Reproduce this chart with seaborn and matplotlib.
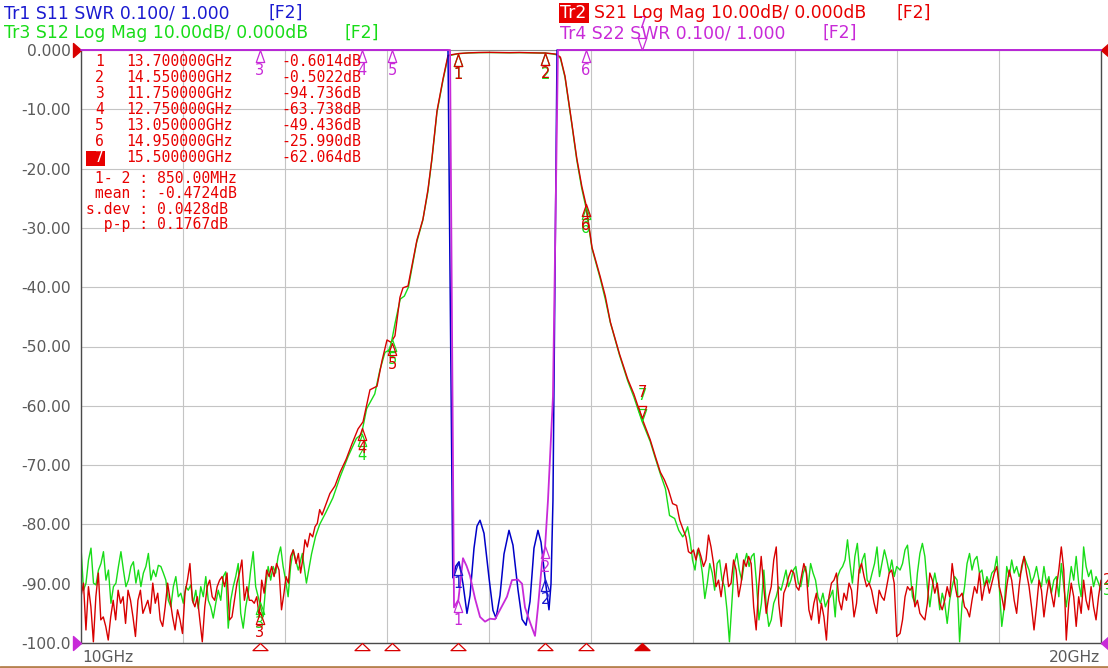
import numpy as np
import matplotlib
matplotlib.use("Agg")
import matplotlib.pyplot as plt
import seaborn as sns
from matplotlib.path import Path
from matplotlib.patches import Rectangle
from matplotlib.lines import Line2D

# ---------------- data ----------------
# marker table (Tr2, S21)
mk_num = ['1', '2', '3', '4', '5', '6', '7']
mk_freq = [13.70, 14.55, 11.75, 12.75, 13.05, 14.95, 15.50]
mk_db = [-0.6014, -0.5022, -94.736, -63.738, -49.436, -25.990, -62.064]
stat_mean, stat_sdev, stat_pp = -0.4724, 0.0428, 0.1767

pass_f = [13.65, 13.70, 13.80, 13.90, 14.00, 14.10, 14.20, 14.30, 14.40, 14.50, 14.55, 14.62]

# S21 (red), dB
s21_noise_lo = [-92.2, -89.9, -97.8, -90.5, -93.9, -99.8, -92.2, -88.2, -96.1, -95.6,
                -97.2, -99.5, -95.6, -92.8, -96.1, -91.1, -93.3, -92.2, -96.7, -91.1,
                -92.8, -95.6, -98.9, -92.8, -91.1, -95.0, -93.9, -92.8, -95.0, -89.9,
                -93.3, -91.6, -96.1, -97.2, -93.9, -89.9, -92.8, -95.6, -97.8, -94.4,
                -96.1, -98.4, -91.6, -89.4, -86.6, -92.8, -93.9, -92.2, -96.1, -99.8,
                -93.9, -90.5, -89.4, -92.2, -92.8, -90.5, -89.4, -88.8, -90.5, -88.2,
                -96.1, -95.6, -92.8, -89.9, -88.2, -86.0, -92.8, -90.5, -92.8, -92.8,
                -93.3, -92.2, -95.6, -89.4, -91.6, -87.7, -88.8, -87.1, -88.8, -86.6,
                -87.7, -94.4, -91.6]
s21_lo_f = [12.01, 12.033, 12.055, 12.081, 12.108, 12.131, 12.153, 12.173, 12.196, 12.219,
            12.245, 12.271, 12.294, 12.317, 12.34, 12.363, 12.44, 12.49, 12.54, 12.60,
            12.657, 12.716, 12.765, 12.833, 12.902, 12.951, 13.00, 13.04, 13.078, 13.127,
            13.157, 13.206, 13.294, 13.353, 13.402, 13.441, 13.49, 13.549, 13.598]
s21_lo_db = [-88.8, -89.9, -85.4, -84.3, -86.6, -84.9, -88.2, -86.0, -82.6, -83.8,
             -81.5, -82.1, -80.4, -79.8, -77.5, -78.4, -74.8, -73.5, -71.2, -69.0,
             -66.4, -63.9, -62.7, -57.3, -56.7, -52.4, -48.9, -49.3, -48.2, -41.7,
             -40.1, -39.8, -32.0, -28.5, -23.5, -18.2, -10.3, -4.9, -0.9]
s21_pass_db = [-0.75, -0.60, -0.48, -0.42, -0.40, -0.43, -0.45, -0.42, -0.46, -0.50, -0.50, -0.62]
s21_hi_f = [14.66, 14.70, 14.745, 14.81, 14.86, 14.91, 14.95, 15.01, 15.09, 15.14, 15.19, 15.28,
            15.36, 15.42, 15.50, 15.58, 15.63, 15.68, 15.72, 15.76, 15.80, 15.84, 15.87]
s21_hi_db = [-0.7, -1.2, -4.4, -12.1, -18.2, -23.0, -26.0, -33.3, -38.2, -41.5, -45.9, -51.3,
             -55.5, -58.0, -62.1, -65.7, -68.5, -71.2, -72.5, -74.2, -76.5, -76.8, -79.3]
s21_noise_a = [-81.0, -82.1, -84.6, -84.9, -84.3, -86.0, -84.0, -85.4, -87.1, -86.0,
               -81.8, -83.8, -86.6, -90.5, -89.4, -92.2, -88.8, -86.6, -90.5, -89.9,
               -86.0, -87.7, -92.2, -89.9, -86.0, -87.1, -85.4, -86.6, -93.9, -97.8,
               -90.5, -85.4, -90.5, -95.0, -92.2, -90.5, -86.0, -83.8, -93.3, -97.2,
               -91.6, -90.5, -88.8, -87.7, -88.2, -90.5, -91.1, -88.8, -86.6, -88.2,
               -94.4, -96.1, -93.3, -91.6, -96.7, -93.3, -95.6, -99.5, -92.2, -89.9,
               -89.4, -88.2, -92.8, -94.4, -91.6, -92.8, -89.9, -91.1, -95.6, -93.3,
               -87.7, -86.6, -88.8, -90.5, -89.9, -91.1, -93.3, -95.0, -91.1, -92.2,
               -92.8, -90.5, -88.2, -87.7, -89.9, -98.9]
s21_noise_b = [-98.4, -96.1, -92.2, -90.5, -91.1, -90.5, -93.9, -92.8, -95.0, -95.6,
               -96.1, -93.3, -88.2, -89.4, -91.6, -89.9, -93.3, -94.4, -92.8, -90.5,
               -92.2, -86.6, -89.9, -92.2, -92.2, -91.6, -93.9, -94.4, -95.6, -92.8,
               -90.5, -91.6, -88.2, -92.8, -90.5, -89.4, -91.6, -89.9, -88.2, -87.1,
               -90.5, -92.2, -94.4, -90.5, -87.7, -89.4, -92.8, -95.0, -90.5, -87.1,
               -85.4, -88.2, -90.5, -93.9, -97.8, -93.9, -89.4, -91.1, -95.6, -92.2,
               -89.4, -91.6, -93.9, -90.5, -87.7, -83.8, -87.7, -99.5, -93.3, -89.9,
               -92.2, -97.2, -92.2, -95.0, -89.4, -92.8, -94.4, -90.5, -93.9, -96.1,
               -92.2, -89.4]

# S12 (green), dB
s12_noise_lo = [-83.8, -91.1, -89.9, -86.0, -84.0, -89.9, -90.2, -87.7, -86.6, -84.6,
                -89.4, -87.7, -93.3, -90.5, -89.9, -87.1, -84.6, -87.7, -90.5, -89.4,
                -87.1, -86.3, -89.9, -87.7, -90.5, -88.2, -87.1, -84.9, -89.4, -87.7,
                -88.8, -86.9, -87.1, -88.2, -89.4, -92.8, -93.9, -90.5, -88.8, -92.2,
                -91.6, -93.3, -90.5, -91.1, -90.2, -93.3, -91.1, -94.2, -90.5, -92.2,
                -88.8, -92.8, -93.9, -95.8, -93.3, -91.1, -92.8, -88.8, -88.0, -97.5,
                -92.8, -90.5, -88.8, -86.6, -95.0, -97.5, -93.9, -91.6, -87.7, -84.6,
                -90.5, -92.2, -93.9, -95.6, -90.5, -87.1, -89.4, -87.1, -88.2, -85.4,
                -83.8, -87.1, -89.4, -92.2, -87.1]
s12_lo_f = [12.08, 12.13, 12.17, 12.21, 12.26, 12.30, 12.34, 12.40, 12.47, 12.54,
            12.62, 12.70, 12.75, 12.80, 12.88, 12.93, 12.98, 13.03, 13.08, 13.13,
            13.17, 13.21, 13.29, 13.35, 13.40, 13.44, 13.49, 13.55, 13.60]
s12_lo_db = [-84.3, -87.7, -84.9, -89.9, -85.0, -82.0, -80.0, -78.0, -75.5, -72.0,
             -68.5, -65.5, -64.8, -60.5, -58.0, -54.0, -51.0, -50.5, -46.0, -42.0,
             -41.5, -40.0, -32.5, -28.8, -24.0, -18.5, -10.5, -5.0, -1.0]
s12_pass_db = [-0.80, -0.62, -0.50, -0.45, -0.43, -0.45, -0.47, -0.45, -0.48, -0.52, -0.52, -0.65]
s12_hi_f = [14.66, 14.70, 14.745, 14.81, 14.86, 14.91, 14.95, 15.01, 15.09, 15.14, 15.19,
            15.28, 15.36, 15.42, 15.50, 15.58, 15.63, 15.68, 15.73, 15.77, 15.82, 15.86]
s12_hi_db = [-0.8, -1.4, -4.6, -12.3, -18.5, -23.4, -26.5, -33.5, -38.5, -42.0, -46.0,
             -51.5, -55.8, -58.5, -62.6, -66.0, -68.8, -71.5, -74.0, -78.5, -79.0, -81.0]
s12_noise_a = [-82.1, -81.5, -80.4, -82.6, -86.0, -87.7, -84.3, -85.4, -88.2, -92.5,
               -89.9, -86.6, -88.2, -91.1, -86.6, -86.0, -89.4, -90.5, -94.4, -99.8,
               -93.3, -86.6, -84.9, -87.7, -89.4, -86.6, -84.9, -87.1, -85.4, -84.9,
               -89.9, -96.1, -93.3, -87.7, -93.9, -97.2, -96.1, -93.3, -92.2, -90.5,
               -91.1, -89.4, -87.7, -90.5, -89.4, -87.7, -87.1, -89.9, -90.5, -88.2,
               -87.1, -90.5, -86.6, -88.2, -89.4, -92.2, -93.3, -91.6, -93.9, -92.8,
               -92.2, -91.1, -95.6, -88.8, -87.7, -87.1, -86.0, -82.6, -86.6, -89.9,
               -85.4, -83.2, -88.2, -86.0, -84.9, -89.4, -89.9, -88.2, -86.6, -83.8,
               -88.8, -86.6, -84.3, -86.0, -88.2, -86.0, -88.8, -87.1]
s12_noise_b = [-87.7, -86.6, -84.3, -83.5, -87.7, -92.2, -93.3, -88.2, -84.9, -83.2,
               -85.4, -90.5, -93.9, -90.5, -88.2, -90.5, -94.4, -91.6, -93.3, -96.7,
               -92.8, -90.5, -88.8, -89.4, -99.8, -93.3, -90.5, -86.6, -84.9, -87.7,
               -86.0, -85.4, -88.2, -87.7, -90.5, -88.8, -89.9, -88.2, -87.7, -85.4,
               -90.5, -97.2, -93.9, -87.1, -88.8, -86.0, -88.2, -87.1, -88.8, -87.7,
               -85.4, -86.6, -87.7, -89.9, -88.8, -87.1, -89.4, -90.5, -87.1, -89.9,
               -88.8, -91.6, -89.4, -88.8, -92.2, -86.6, -90.5, -93.9, -90.5, -87.1,
               -89.4, -85.4, -89.9, -92.2, -83.8, -87.1, -88.8, -87.7, -90.5, -88.8,
               -89.9, -91.1]

# S11 (blue) and S22 (magenta), SWR; 9.0 = off scale
s11_f = [10.0, 13.59, 13.598, 13.645, 13.676, 13.706, 13.745, 13.784, 13.814, 13.853,
         13.882, 13.912, 13.951, 14.0, 14.039, 14.069, 14.108, 14.147, 14.196, 14.235,
         14.284, 14.324, 14.363, 14.402, 14.441, 14.48, 14.51, 14.549, 14.588, 14.608,
         14.627, 14.667, 14.68, 20.0]
s11_swr = [9.0, 9.0, 2.0, 1.11, 1.13, 1.137, 1.10, 1.05, 1.08, 1.16,
           1.197, 1.207, 1.185, 1.11, 1.055, 1.042, 1.08, 1.15, 1.19, 1.165,
           1.09, 1.04, 1.03, 1.07, 1.16, 1.19, 1.17, 1.11, 1.056, 1.10,
           1.24, 2.0, 9.0, 9.0]
s22_f = [10.0, 13.61, 13.618, 13.657, 13.70, 13.745, 13.78, 13.814, 13.863, 13.912,
         13.961, 14.01, 14.059, 14.108, 14.176, 14.225, 14.284, 14.324, 14.353, 14.402,
         14.451, 14.48, 14.52, 14.549, 14.578, 14.627, 14.676, 14.69, 20.0]
s22_swr = [9.0, 9.0, 2.0, 1.06, 1.073, 1.143, 1.13, 1.113, 1.075, 1.044,
           1.036, 1.041, 1.04, 1.056, 1.078, 1.106, 1.107, 1.10, 1.06, 1.035,
           1.012, 1.06, 1.136, 1.16, 1.24, 1.415, 2.0, 9.0, 9.0]

y_ticks = [0, -10, -20, -30, -40, -50, -60, -70, -80, -90, -100]
y_labels = ['0.000', '-10.00', '-20.00', '-30.00', '-40.00', '-50.00',
            '-60.00', '-70.00', '-80.00', '-90.00', '-100.0']

# ---------------- style ----------------
RED, RED_T = '#d80000', '#e80000'
GREEN = '#18dc18'
BLUE, BLUE_T = '#0000c8', '#1a1ad0'
MAG = '#c82ad8'
GRAYTXT = '#5a5a5a'
W, H = 1108, 668

sns.set_style('white')
plt.rcParams['font.family'] = ['DejaVu Sans']


def build(noise_lo, lo_span, lo_f, lo_db, pass_db, hi_f, hi_db, na, na_span, nb):
    f = np.concatenate([np.linspace(lo_span[0], lo_span[1], len(noise_lo)), lo_f, pass_f, hi_f,
                        np.linspace(na_span[0], na_span[1], len(na)),
                        np.linspace(18.03, 20.0, len(nb))])
    v = np.concatenate([noise_lo, lo_db, pass_db, hi_db, na, nb])
    return f, v


r_f, r_db = build(s21_noise_lo, (10.0, 11.99), s21_lo_f, s21_lo_db, s21_pass_db,
                  s21_hi_f, s21_hi_db, s21_noise_a, (15.906, 17.997), s21_noise_b)
g_f, g_db = build(s12_noise_lo, (10.0, 12.055), s12_lo_f, s12_lo_db, s12_pass_db,
                  s12_hi_f, s12_hi_db, s12_noise_a, (15.899, 17.997), s12_noise_b)
b_swr = np.clip(s11_swr, 1.0, 2.0)
m_swr = np.clip(s22_swr, 1.0, 2.0)

fig = plt.figure(figsize=(W / 100, H / 100), dpi=100)
ax = fig.add_axes([81 / W, 1 - 643 / H, 1020 / W, 593 / H])
ax2 = ax.twinx()
ax2.set_position([81 / W, 1 - 643 / H, 1020 / W, 593 / H])

ax.set_xlim(10, 20)
ax.set_ylim(-100, 0)
ax2.set_ylim(1.0, 2.0)
ax.set_xticks(np.arange(10, 21, 1))
ax.set_yticks(y_ticks)
ax.set_yticklabels(y_labels, color=GRAYTXT, fontsize=11.2)
ax.tick_params(axis='y', length=0, pad=7.5)
ax.tick_params(axis='x', length=0, labelbottom=False)
ax.grid(True, color='#c4c4c4', lw=0.8)
ax.set_axisbelow(True)
for side in ['left', 'bottom', 'right']:
    ax.spines[side].set_color('#4a4a4a')
    ax.spines[side].set_linewidth(1.0)
ax.spines['top'].set_color('#8a8a8a')
ax.spines['top'].set_linewidth(0.8)
ax2.set_yticks([])
for s in ax2.spines.values():
    s.set_visible(False)

# traces
sns.lineplot(x=g_f, y=g_db, ax=ax, color=GREEN, lw=1.0, sort=False, estimator=None, legend=False)
sns.lineplot(x=r_f, y=r_db, ax=ax, color=RED, lw=1.0, sort=False, estimator=None, legend=False)
sns.lineplot(x=s11_f, y=b_swr, ax=ax2, color=BLUE, lw=1.1, sort=False, estimator=None,
             legend=False, clip_on=False)
sns.lineplot(x=s22_f, y=m_swr, ax=ax2, color=MAG, lw=1.3, sort=False, estimator=None,
             legend=False, clip_on=False)
ax.set_xlabel('')
ax.set_ylabel('')
ax2.set_ylabel('')

# marker shapes (apex at the data point)
closed = [Path.MOVETO, Path.LINETO, Path.LINETO, Path.CLOSEPOLY]
UP = Path([(0, 0), (-0.35, -1), (0.35, -1), (0, 0)], closed)
DOWN = Path([(0, 0), (-0.35, 1), (0.35, 1), (0, 0)], closed)
FLAT = Path([(0, 0), (-1, -0.95), (1, -0.95), (0, 0)], closed)
RIGHT = Path([(0, 0), (-1, 0.875), (-1, -0.875), (0, 0)], closed)
LEFT = Path([(0, 0), (1, 0.875), (1, -0.875), (0, 0)], closed)


def put_marker(axis, f, v, color, label, down=False):
    axis.plot([f], [v], ls='none', marker=DOWN if down else UP, ms=17.3, mfc='none',
              mec=color, mew=0.9, clip_on=False, zorder=6)
    axis.annotate(label, (f, v), xytext=(0, 26 if down else -21), textcoords='offset pixels',
                  ha='center', va='center', color=color, fontsize=10.5,
                  annotation_clip=False, zorder=6)


g_mk = np.interp(mk_freq, g_f, g_db)
b_mk = np.interp(mk_freq, s11_f, s11_swr)
m_mk = np.interp(mk_freq, s22_f, s22_swr)
for i, n in enumerate(mk_num):
    put_marker(ax, mk_freq[i], g_mk[i], GREEN, n, n == '7')
for i, n in enumerate(mk_num):
    put_marker(ax, mk_freq[i], mk_db[i], RED, n, n == '7')
for i, n in enumerate(mk_num):
    if b_mk[i] < 2.0:
        put_marker(ax2, mk_freq[i], b_mk[i], BLUE_T, n, n == '7')
for i, n in enumerate(mk_num):
    put_marker(ax2, mk_freq[i], min(m_mk[i], 2.0), MAG, n, n == '7')

# stimulus markers under the x axis
for i, n in enumerate(mk_num):
    ax.plot([mk_freq[i]], [-100], ls='none', marker=FLAT, ms=10.8,
            mfc=RED if n == '7' else 'white', mec=RED, mew=0.9, clip_on=False, zorder=6)

# reference level / end markers
ax.plot([10], [0], ls='none', marker=RIGHT, ms=11.5, color=RED, clip_on=False, zorder=6)
ax.plot([10], [-100], ls='none', marker=RIGHT, ms=11.5, color=MAG, clip_on=False, zorder=6)
ax.plot([20], [0], ls='none', marker=LEFT, ms=11.5, color=RED, clip_on=False, zorder=6)
ax.plot([20], [-100], ls='none', marker=LEFT, ms=11.5, color=MAG, clip_on=False, zorder=6)
ax.annotate('2', (20, r_db[-1]), xytext=(2, 0), textcoords='offset pixels', ha='left',
            va='center', color=RED, fontsize=10.5, annotation_clip=False)
ax.annotate('3', (20, g_db[-1]), xytext=(2, 0), textcoords='offset pixels', ha='left',
            va='center', color=GREEN, fontsize=10.5, annotation_clip=False)


def ftext(x, y, s, **kw):
    fig.text(x / W, 1 - y / H, s, va='center', **kw)


# header lines
HF = 12.4
ftext(4, 13, 'Tr1 S11 SWR 0.100/ 1.000', color=BLUE_T, fontsize=HF)
ftext(268, 13, '[F2]', color=BLUE_T, fontsize=HF)
ftext(4, 33, 'Tr3 S12 Log Mag 10.00dB/ 0.000dB', color=GREEN, fontsize=HF)
ftext(345, 33, '[F2]', color=GREEN, fontsize=HF)
fig.add_artist(Rectangle((559 / W, 1 - 23 / H), 30 / W, 20 / H, transform=fig.transFigure,
                         facecolor=RED_T, edgecolor='none'))
ftext(560, 13, 'Tr2', color='white', fontsize=HF)
ftext(594, 13, 'S21 Log Mag 10.00dB/ 0.000dB', color=RED_T, fontsize=HF)
ftext(897, 13, '[F2]', color=RED_T, fontsize=HF)
ftext(560, 33, 'Tr4 S22 SWR 0.100/ 1.000', color=MAG, fontsize=HF)
ftext(822, 33, '[F2]', color=MAG, fontsize=HF)

# marker table
MONO = dict(family='DejaVu Sans Mono', fontsize=10.6, color=RED_T)
row_y = [62, 78, 94, 110, 126, 142, 158]
for i, n in enumerate(mk_num):
    if n == '7':
        fig.add_artist(Rectangle((86 / W, 1 - 166 / H), 19 / W, 15 / H,
                                 transform=fig.transFigure, facecolor=RED_T, edgecolor='none'))
        ftext(95, row_y[i], n, **{**MONO, 'color': 'white'})
    else:
        ftext(95, row_y[i], n, **MONO)
    ftext(126, row_y[i], f'{mk_freq[i]:.6f}GHz', **MONO)
    dec = 4 if abs(mk_db[i]) < 10 else 3
    ftext(281, row_y[i], f'{mk_db[i]:.{dec}f}dB', **MONO)

span_mhz = (mk_freq[1] - mk_freq[0]) * 1000
ftext(86, 178, f' 1- 2 : {span_mhz:.2f}MHz', **MONO)
ftext(86, 193, f' mean : {stat_mean:.4f}dB', **MONO)
ftext(86, 209, f's.dev : {stat_sdev:.4f}dB', **MONO)
ftext(86, 224, f'  p-p : {stat_pp:.4f}dB', **MONO)

# frequency span labels
ftext(82, 657, '10GHz', color=GRAYTXT, fontsize=11.2)
ftext(1100, 657, '20GHz', color=GRAYTXT, fontsize=11.2, ha='right')

fig.add_artist(Line2D([0, 1], [1.2 / H, 1.2 / H], transform=fig.transFigure,
                      color='#b5824f', lw=2.0))

fig.savefig('out.png', dpi=100, facecolor='white')
